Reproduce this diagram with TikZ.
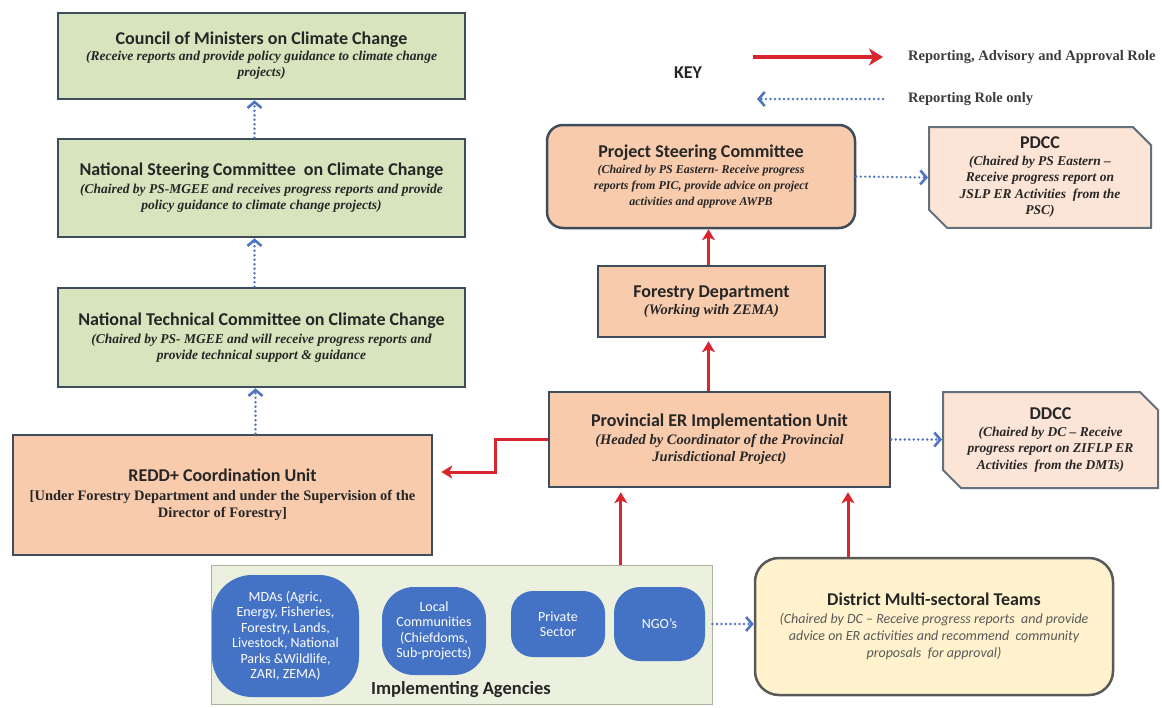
\documentclass[tikz,border=0pt]{standalone}
\usepackage{fontspec}
\setmainfont{Liberation Serif}
\newfontfamily\calfont{Carlito}
\usepackage{xcolor}
\usepackage{tikz}
\usetikzlibrary{positioning,arrows.meta,shapes.misc}

\definecolor{greenfill}{HTML}{D7E4BD}
\definecolor{orangefill}{HTML}{F8CBAD}
\definecolor{peachfill}{HTML}{FCE4D6}
\definecolor{creamfill}{HTML}{FFF2CC}
\definecolor{panelfill}{HTML}{EBF1DE}
\definecolor{panelline}{HTML}{A9B3A0}
\definecolor{blobblue}{HTML}{4472C4}
\definecolor{boxline}{HTML}{3F4C5C}
\definecolor{redline}{HTML}{D9262E}
\definecolor{bluedot}{HTML}{4F75C0}
\definecolor{darktext}{HTML}{262626}
\definecolor{softtext}{HTML}{595959}

\newcommand{\boxhead}[1]{{\calfont\upshape\bfseries\fontsize{18}{21}\selectfont #1}}

\begin{document}
\begin{tikzpicture}[
  x=1pt, y=-1pt,
  every node/.style={align=center, text=darktext, inner sep=2pt},
  greenbox/.style={draw=boxline, line width=2.5pt, fill=greenfill, minimum width=407pt,
    font=\bfseries\itshape\fontsize{13.5}{16}\selectfont},
  orangebox/.style={draw=boxline, line width=2.5pt, fill=orangefill,
    font=\bfseries\itshape\fontsize{14.5}{17}\selectfont},
  notebox/.style={chamfered rectangle, chamfered rectangle corners={north east,south west},
    chamfered rectangle xsep=9pt, chamfered rectangle ysep=9pt,
    draw=boxline!80, line width=2pt, fill=peachfill, inner sep=1pt,
    font=\bfseries\itshape\fontsize{13.5}{16.5}\selectfont},
  teambox/.style={draw=softtext, line width=2.5pt, fill=creamfill, rounded corners=24pt,
    font=\calfont\itshape\fontsize{14}{17}\selectfont},
  panel/.style={draw=panelline, line width=1pt, fill=panelfill},
  blob/.style={fill=blobblue, text=white, inner sep=1pt,
    font=\calfont\fontsize{14}{15.5}\selectfont},
  keytext/.style={font=\bfseries\fontsize{14.5}{17}\selectfont, text=darktext!90},
  redarrow/.style={draw=redline, line width=3pt, -{Stealth[length=11pt,width=13pt,inset=3pt]}},
  bluearrow/.style={draw=bluedot, line width=2.6pt, line cap=round, dash pattern=on 0pt off 4.5pt,
    -{Straight Barb[length=6pt,width=14pt]}}
]
\useasboundingbox (0,0) rectangle (1162,707);

% left column
\node[greenbox, minimum height=86pt] (council) at (261.5,56)
  {\boxhead{Council of Ministers on Climate Change}\\
   (Receive reports and provide policy guidance to climate change\\ projects)};
\node[greenbox, minimum height=98pt] (nscc) at (261.5,188)
  {\boxhead{National Steering Committee\ \ on Climate Change}\\[2pt]
   (Chaired by PS-MGEE and receives progress reports and provide\\
   policy guidance to climate change projects)};
\node[greenbox, minimum height=99pt] (ntcc) at (261.5,337.5)
  {\boxhead{National Technical Committee on Climate Change}\\[2pt]
   (Chaired by PS- MGEE and will receive progress reports and\\
   provide technical support \& guidance};
\node[orangebox, minimum width=419pt, minimum height=120pt,
  font=\bfseries\fontsize{14.5}{17}\selectfont] (redd) at (222.5,495)
  {\boxhead{REDD+ Coordination Unit}\\[2pt]
   [Under Forestry Department and under the Supervision of the\\
   Director of Forestry]};

% right column
\node[orangebox, rounded corners=16pt, minimum width=308pt, minimum height=103pt,
  font=\bfseries\itshape\fontsize{12}{16}\selectfont] (psc) at (701,176.5)
  {\boxhead{Project Steering Committee}\\
   (Chaired by PS Eastern- Receive progress\\
   reports from PIC, provide advice on project\\
   activities and approve AWPB};
\node[orangebox, minimum width=227pt, minimum height=71pt] (forestry) at (711.5,301.5)
  {\boxhead{Forestry Department}\\ (Working with ZEMA)};
\node[orangebox, minimum width=341pt, minimum height=95pt] (provunit) at (719.5,439.5)
  {\boxhead{Provincial ER Implementation Unit}\\[1pt]
   (Headed by Coordinator of the Provincial\\ Jurisdictional Project)};
\node[notebox, minimum width=222pt, minimum height=97pt] (pdcc) at (1040,177.5)
  {\boxhead{PDCC}\\ (Chaired by PS Eastern –\\ Receive progress report on\\
   JSLP ER Activities\ \ from the\\ PSC)};
\node[notebox, minimum width=215pt, minimum height=96pt] (ddcc) at (1050.5,440)
  {\boxhead{DDCC}\\ (Chaired by DC – Receive\\ progress report on ZIFLP ER\\
   Activities\ \ from the DMTs)};

% implementing agencies
\node[panel, minimum width=501pt, minimum height=139pt] (agencies) at (461.5,634.5) {};
\node[blob, rounded corners=40pt, minimum width=147pt, minimum height=122pt] (mdas) at (285.5,636)
  {MDAs (Agric,\\ Energy, Fisheries,\\ Forestry, Lands,\\ Livestock, National\\
   Parks \&Wildlife,\\ ZARI, ZEMA)};
\node[blob, rounded corners=32pt, minimum width=104pt, minimum height=88pt] (local) at (434,631)
  {Local\\ Communities\\ (Chiefdoms,\\ Sub-projects)};
\node[blob, rounded corners=22pt, minimum width=94pt, minimum height=66pt] (private) at (558,624)
  {Private\\ Sector};
\node[blob, rounded corners=26pt, minimum width=91pt, minimum height=74pt] (ngo) at (659.5,624)
  {NGO’s};
\node[font=\calfont\bfseries\fontsize{18.5}{21}\selectfont] (agencylabel) at (461,690)
  {Implementing Agencies};
\node[teambox, minimum width=358pt, minimum height=137pt] (dmt) at (934,626.5)
  {\boxhead{District Multi-sectoral Teams}\\[1pt]
   {\color{softtext}(Chaired by DC – Receive progress reports\ \ and provide}\\
   {\color{softtext}advice on ER activities and recommend\ \ community}\\
   {\color{softtext}proposals\ \ for approval)}};

% key
\node[font=\calfont\bfseries\fontsize{18}{21}\selectfont] (keytitle) at (688,73) {KEY};
\node[keytext, anchor=west] (keyred) at (906,57) {Reporting, Advisory and Approval Role};
\node[keytext, anchor=west] (keyblue) at (906,99) {Reporting Role only};
\draw[redarrow, line width=4pt, -{Stealth[length=14pt,width=17pt,inset=4pt]}]
  ([xshift=-153pt]keyred.west) -- ([xshift=-23pt]keyred.west);
\draw[bluearrow] ([xshift=-23pt]keyblue.west) -- ([xshift=-149pt]keyblue.west);

% reporting only
\draw[bluearrow] ([xshift=-7pt]nscc.north) -- ([xshift=-7pt]council.south);
\draw[bluearrow] ([xshift=-7pt]ntcc.north) -- ([xshift=-7pt]nscc.south);
\draw[bluearrow] ([xshift=-6pt]ntcc.south |- redd.north) -- ([xshift=-6pt]ntcc.south);
\draw[bluearrow] (psc.east) -- (pdcc.west);
\draw[bluearrow] (provunit.east) -- (ddcc.west |- provunit.east);
\draw[bluearrow] (agencies.east |- ngo.east) -- (dmt.west |- ngo.east);

% reporting, advisory and approval
\draw[redarrow] ([xshift=-3pt]forestry.north) -- ([xshift=-3pt]forestry.north |- psc.south);
\draw[redarrow, shorten >=3pt] ([xshift=-3pt]forestry.south |- provunit.north) -- ([xshift=-3pt]forestry.south);
\draw[redarrow] (provunit.west) -- ++(-52,0) |- ([xshift=8pt,yshift=23pt]redd.east);
\draw[redarrow, shorten >=4pt] ([xshift=7pt]ngo.west |- agencies.north) -- ([xshift=7pt]ngo.west |- provunit.south);
\draw[redarrow, shorten >=4pt] ([xshift=-86pt]dmt.north) -- ([xshift=-86pt]dmt.north |- provunit.south);
\end{tikzpicture}
\end{document}
